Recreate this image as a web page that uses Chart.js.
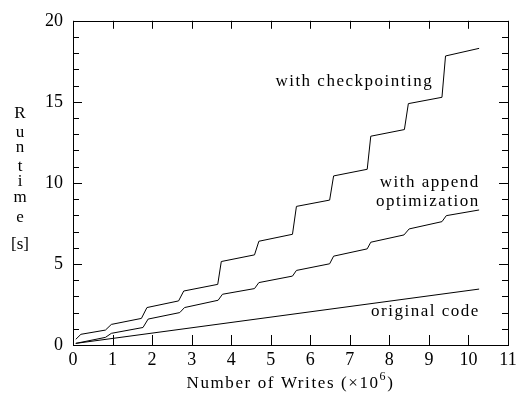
<!DOCTYPE html>
<html>
<head>
<meta charset="utf-8">
<script src="https://cdn.jsdelivr.net/npm/chart.js@4.4.1/dist/chart.umd.min.js"></script>
<style>
  html, body { margin: 0; padding: 0; background: #fff; }
  #wrap { width: 521px; height: 402px; }
</style>
</head>
<body>
<div id="wrap"><canvas id="c" width="521" height="402"></canvas></div>
<script>
// values (x in millions of writes, y in seconds)
const checkX = [0.07, 0.2, 0.82, 0.97, 1.73, 1.87, 2.67, 2.8, 3.66, 3.75, 4.59, 4.7, 5.55, 5.65, 6.49, 6.59, 7.44, 7.53, 8.38, 8.48, 9.33, 9.42, 10.27];
const checkY = [0.35, 0.66, 0.92, 1.27, 1.64, 2.31, 2.72, 3.33, 3.74, 5.15, 5.56, 6.4, 6.83, 8.55, 8.94, 10.43, 10.84, 12.88, 13.29, 14.89, 15.28, 17.83, 18.3];
const appendX = [0.07, 0.82, 0.97, 1.77, 1.9, 2.7, 2.82, 3.67, 3.78, 4.59, 4.7, 5.55, 5.65, 6.49, 6.59, 7.44, 7.53, 8.37, 8.5, 9.33, 9.44, 10.27];
const appendY = [0.1, 0.47, 0.72, 1.08, 1.6, 2.0, 2.31, 2.76, 3.13, 3.48, 3.85, 4.25, 4.6, 5.01, 5.48, 5.93, 6.34, 6.79, 7.16, 7.61, 7.98, 8.33];
const origX = [0.07, 10.27];
const origY = [0.1, 3.45];

const xTicks = [0,1,2,3,4,5,6,7,8,9,10,11];
const yMajor = [0,5,10,15,20];

// curve labels: text lines, right edge (x) and centre of first line (y) in data units
const curveLabels = [
  { lines: ['with checkpointing'], x: 9.07, y: 16.25 },
  { lines: ['with append', 'optimization'], x: 10.25, y: 10.0 },
  { lines: ['original code'], x: 10.25, y: 2.05 }
];
const yTitle = ['R','u','n','t','i','m','e','[s]'];
const xTitleMain = 'Number of Writes (\u00d710';
const xTitleSup = '6';

const FAMILY = '"Liberation Serif", "DejaVu Serif", serif';
const FONT = '17px ' + FAMILY;

function pts(xs, ys){ return xs.map((x,i)=>({x:x, y:ys[i]})); }

const frame = {
  id: 'frame',
  afterDraw(chart){
    const ctx = chart.ctx;
    const a = chart.chartArea;
    const xs = chart.scales.x, ys = chart.scales.y;
    ctx.save();
    ctx.strokeStyle = '#000';
    ctx.lineWidth = 1;
    ctx.strokeRect(Math.round(a.left)+0.5, Math.round(a.top)+0.5, Math.round(a.right-a.left), Math.round(a.bottom-a.top));
    ctx.beginPath();
    // x ticks, bottom and top, pointing inward
    xTicks.forEach(v=>{
      const px = Math.round(xs.getPixelForValue(v))+0.5;
      ctx.moveTo(px, a.bottom); ctx.lineTo(px, a.bottom-10);
      ctx.moveTo(px, a.top); ctx.lineTo(px, a.top+8);
    });
    // y ticks every 1, longer at the majors
    for(let v=0; v<=20; v++){
      const py = Math.round(ys.getPixelForValue(v))+0.5;
      const len = yMajor.includes(v) ? 9 : 6;
      ctx.moveTo(a.left, py); ctx.lineTo(a.left+len, py);
      ctx.moveTo(a.right, py); ctx.lineTo(a.right-len, py);
    }
    ctx.stroke();

    ctx.fillStyle = '#000';
    ctx.font = FONT;
    ctx.textBaseline = 'middle';
    ctx.textAlign = 'right';
    ctx.letterSpacing = '1.5px';
    curveLabels.forEach(l=>{
      const px = xs.getPixelForValue(l.x) + 1.5;
      const py = ys.getPixelForValue(l.y);
      l.lines.forEach((t,i)=> ctx.fillText(t, px, py + i*19));
    });

    ctx.letterSpacing = '0px';
    ctx.textAlign = 'center';
    const ty = [114,133,148,167,182,198,218,245];
    yTitle.forEach((t,i)=> ctx.fillText(t, 20, ty[i]));

    // x title with superscript
    ctx.letterSpacing = '1.6px';
    ctx.textAlign = 'left';
    const mainW = ctx.measureText(xTitleMain).width;
    ctx.font = '12px ' + FAMILY;
    const supW = ctx.measureText(xTitleSup).width;
    ctx.font = FONT;
    const parenW = ctx.measureText(')').width;
    const total = mainW + supW + parenW;
    let x0 = (a.left + a.right)/2 - total/2;
    ctx.fillText(xTitleMain, x0, 384);
    ctx.font = '12px ' + FAMILY;
    ctx.fillText(xTitleSup, x0 + mainW, 377);
    ctx.font = FONT;
    ctx.fillText(')', x0 + mainW + supW, 384);
    ctx.restore();
  }
};

const line = { borderColor:'#000', borderWidth:1, pointRadius:0, tension:0, fill:false };

new Chart(document.getElementById('c'), {
  type: 'line',
  data: {
    datasets: [
      Object.assign({ label:'with checkpointing', data: pts(checkX, checkY) }, line),
      Object.assign({ label:'with append optimization', data: pts(appendX, appendY) }, line),
      Object.assign({ label:'original code', data: pts(origX, origY) }, line)
    ]
  },
  options: {
    responsive: false,
    animation: false,
    layout: { padding: { left:0, top:19, right:13, bottom:0 } },
    plugins: { legend:{display:false}, tooltip:{enabled:false} },
    scales: {
      x: {
        type: 'linear', min: 0, max: 11,
        grid: { display:false, drawTicks:false },
        border: { display:false },
        ticks: { stepSize:1, color:'#000', font:{ family:FAMILY, size:18 }, padding:4, maxRotation:0 },
        afterFit(s){ s.height = 57; }
      },
      y: {
        min: 0, max: 20,
        grid: { display:false, drawTicks:false },
        border: { display:false },
        ticks: { stepSize:5, color:'#000', font:{ family:FAMILY, size:18 }, padding:10 },
        afterFit(s){ s.width = 73; }
      }
    }
  },
  plugins: [frame]
});
</script>
</body>
</html>
